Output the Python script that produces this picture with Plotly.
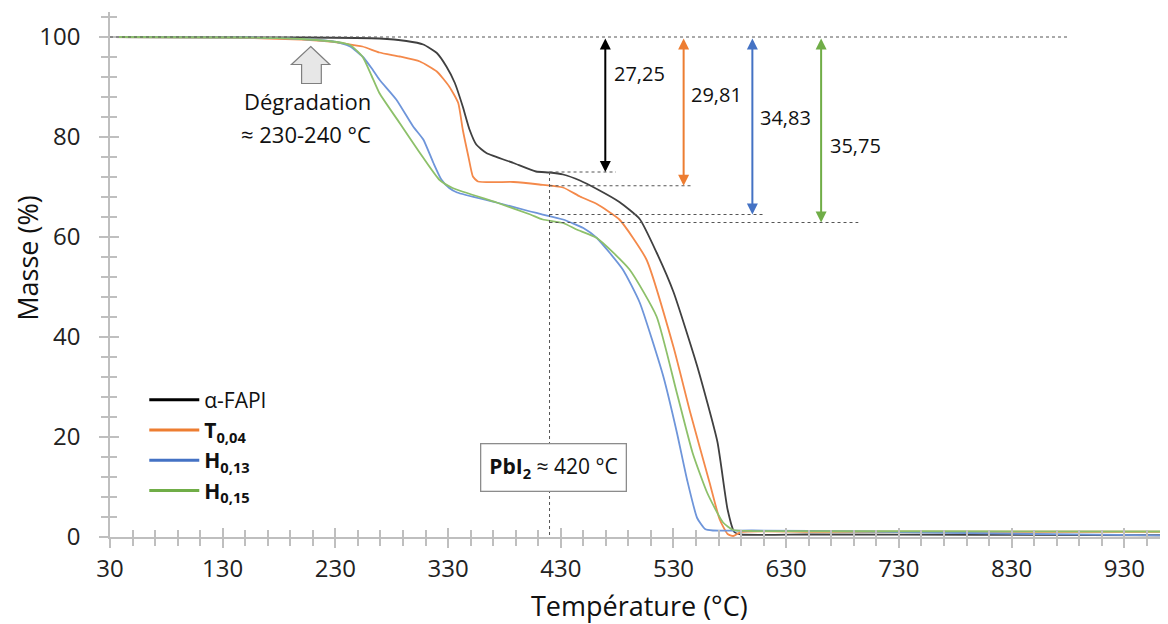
import plotly.graph_objects as go

# ---------------- data ----------------
temp_fapi = [30, 200, 269, 293, 308, 320, 328.5, 336, 343, 349, 355, 364, 388, 408, 420, 432, 447, 462, 482, 500, 515, 530, 551, 569, 578, 584, 590, 650, 800, 968]
mass_fapi = [100, 99.9, 99.7, 99.2, 98.5, 96.8, 94.1, 90.8, 86.1, 81.5, 78.5, 76.8, 74.8, 73.1, 72.9, 72.5, 71.3, 69.6, 67.0, 63.6, 56.9, 49, 34.2, 19, 5.5, 1.0, 0.5, 0.5, 0.45, 0.35]

temp_t004 = [30, 130, 200, 225, 254, 269, 287, 305, 320, 331, 339, 343, 348, 352, 356.5, 388, 411, 432, 447, 462, 482, 506, 530, 545, 562, 571, 578, 583, 590, 650, 800, 968]
mass_t004 = [100, 99.9, 99.5, 99.1, 98.1, 96.9, 96.1, 95.1, 93.1, 90.1, 86.8, 81.5, 76.1, 72.1, 71.1, 71.0, 70.5, 69.9, 68.1, 66.6, 63.5, 55.5, 38, 24.8, 10.9, 3.5, 0.6, 0.2, 1.0, 1.05, 1.05, 1.05]

temp_h013 = [30, 150, 200, 231, 243, 254, 262, 269, 284, 299, 308, 317, 324, 331, 338, 373, 403, 414, 432, 450, 462, 485, 500, 521, 533, 542, 551, 558, 565, 600, 700, 850, 968]
mass_h013 = [100, 99.9, 99.6, 99.0, 98.1, 96.1, 93.8, 91.5, 87.5, 82.1, 79.5, 74.8, 71.5, 69.8, 68.9, 66.9, 65.1, 64.5, 63.5, 61.8, 59.8, 53.5, 46.9, 32.1, 20.9, 11.5, 3.8, 1.6, 1.3, 1.3, 1.1, 0.6, 0.3]

temp_h015 = [30, 150, 200, 231, 243, 254, 262, 269, 287, 305, 322, 334, 373, 403, 414, 432, 444, 462, 491, 515, 533, 547, 560, 574, 583, 600, 750, 968]
mass_h015 = [100, 99.9, 99.6, 99.0, 98.4, 96.1, 92.3, 88.8, 82.8, 76.8, 71.5, 69.8, 66.9, 64.5, 63.5, 62.8, 61.5, 59.8, 53.5, 44.1, 28.8, 16.8, 8.8, 2.9, 1.4, 1.2, 1.15, 1.1]

series_names = ["α-FAPI", "<b>T<sub>0,04</sub></b>", "<b>H<sub>0,13</sub></b>", "<b>H<sub>0,15</sub></b>"]
series_colors = ["#404040", "#F4894A", "#6E95DA", "#8DC06A"]
legend_colors = ["#000000", "#ED7D31", "#4472C4", "#70AD47"]
arrow_colors = ["#000000", "#ED7D31", "#4472C4", "#70AD47"]

# mass-loss annotations
loss_labels = ["27,25", "29,81", "34,83", "35,75"]
loss_levels = [73.0, 70.25, 64.5, 62.9]      # plateau levels (dashed lines)
arrow_temps = [469.5, 539, 600, 661]         # x position of double arrows
line_ends = [479, 545.5, 609, 694]           # end of plateau dashed lines
label_temps = [475, 543.5, 605, 667]
label_mass = [92.7, 88.5, 83.9, 78.3]

pbi2_temp = 420
top_line_end = 880

x_ticks = [30, 130, 230, 330, 430, 530, 630, 730, 830, 930]
y_ticks = [0, 20, 40, 60, 80, 100]

FONT = "Open Sans"
AX = "#BFBFBF"

fig = go.Figure()
all_t = [temp_fapi, temp_t004, temp_h013, temp_h015]
all_m = [mass_fapi, mass_t004, mass_h013, mass_h015]
for t, m, col in zip(all_t, all_m, series_colors):
    fig.add_trace(go.Scatter(x=t, y=m, mode="lines", showlegend=False,
                             line=dict(color=col, width=1.8, shape="spline", smoothing=0.5)))
# legend entries (thicker legend lines, as in the reference)
for name, col in zip(series_names, legend_colors):
    fig.add_trace(go.Scatter(x=[None], y=[None], mode="lines", name=name,
                             line=dict(color=col, width=3)))

# invisible trace to carry the overlay axes (inner half of crossing ticks)
fig.add_trace(go.Scatter(x=temp_fapi[:1], y=mass_fapi[:1], xaxis="x2", yaxis="y2",
                         mode="markers", marker=dict(opacity=0), showlegend=False, hoverinfo="skip"))

xr = [30, 968.8]
yr = [0, 105]

common_x = dict(range=xr, tickmode="array", tickvals=x_ticks, showgrid=False, zeroline=False,
                ticklen=9, tickwidth=1.5, tickcolor=AX, automargin=False)
common_y = dict(range=yr, tickmode="array", tickvals=y_ticks, showgrid=False, zeroline=False,
                ticklen=9, tickwidth=1.5, tickcolor=AX, automargin=False)

# the page body adds an 8 px offset, so the figure is 8 px smaller than the window
fig.update_layout(
    width=1160, height=616,
    margin=dict(l=102, r=0, t=4, b=87),
    paper_bgcolor="white", plot_bgcolor="white",
    font=dict(family=FONT, color="#222222"),
    xaxis=dict(**common_x, ticks="outside", showline=True, linecolor=AX, linewidth=1.5,
               tickfont=dict(size=24, family=FONT, color="#222"),
               minor=dict(dtick=20, tick0=30, ticks="outside", ticklen=7, tickwidth=1.5, tickcolor=AX)),
    xaxis2=dict(**common_x, ticks="inside", overlaying="x", showticklabels=False, showline=False,
                minor=dict(dtick=20, tick0=30, ticks="inside", ticklen=7, tickwidth=1.5, tickcolor=AX)),
    yaxis=dict(**common_y, ticks="outside", showline=True, linecolor=AX, linewidth=1.5,
               tickfont=dict(size=24, family=FONT, color="#222"), ticklabelstandoff=14,
               minor=dict(dtick=4, ticks="outside", ticklen=7, tickwidth=1.5, tickcolor=AX)),
    yaxis2=dict(**common_y, ticks="inside", overlaying="y", showticklabels=False, showline=False,
                minor=dict(dtick=4, ticks="inside", ticklen=7, tickwidth=1.5, tickcolor=AX)),
    legend=dict(x=0.0324, y=0.300, xanchor="left", yanchor="top", bgcolor="rgba(0,0,0,0)",
                font=dict(size=21, family=FONT, color="#111"), tracegroupgap=0, itemwidth=50),
    showlegend=True,
)

DASH = dict(color="#555555", width=1, dash="dot")
# top 100 % reference line
fig.add_shape(type="line", x0=temp_fapi[0], x1=top_line_end, y0=mass_fapi[0], y1=mass_fapi[0], line=DASH)
# plateau reference lines
for lvl, xe in zip(loss_levels, line_ends):
    fig.add_shape(type="line", x0=pbi2_temp, x1=xe, y0=lvl, y1=lvl, line=DASH)
# vertical PbI2 line
fig.add_shape(type="line", x0=pbi2_temp, x1=pbi2_temp, y0=loss_levels[0], y1=-1.6, line=DASH)

# double arrows + labels
for xa, lvl, col, lab, lt, lm in zip(arrow_temps, loss_levels, arrow_colors, loss_labels, label_temps, label_mass):
    fig.add_annotation(x=xa, y=lvl, ax=xa, ay=100, xref="x", yref="y", axref="x", ayref="y",
                       text="", showarrow=True, arrowhead=2, arrowside="end+start",
                       arrowsize=1.1, arrowwidth=2, arrowcolor=col, standoff=0, startstandoff=0)
    fig.add_annotation(x=lt, y=lm, xref="x", yref="y", text=lab, showarrow=False, xanchor="left",
                       font=dict(size=20, family=FONT, color="#111"))

# degradation block arrow
fig.add_shape(type="path",
              path="M 208.1 98.1 L 225 94.5 L 217.5 94.5 L 217.5 90.7 L 200 90.7 L 200 94.5 L 191 94.5 Z",
              fillcolor="#E7E7E7", line=dict(color="#7F7F7F", width=1.2))
fig.add_annotation(x=263, y=87.2, xref="x", yref="y", text="Dégradation", showarrow=False,
                   xanchor="right", font=dict(size=22, family=FONT, color="#111"))
fig.add_annotation(x=263, y=80.6, xref="x", yref="y", text="≈ 230-240 °C", showarrow=False,
                   xanchor="right", font=dict(size=22, family=FONT, color="#111"))

# PbI2 box
fig.add_annotation(x=pbi2_temp + 3.5, y=13.9, xref="x", yref="y",
                   text="<b>PbI<sub>2</sub></b> ≈ 420 °C", showarrow=False,
                   font=dict(size=21, family=FONT, color="#111"),
                   bordercolor="#8C8C8C", borderwidth=1.3, borderpad=8, bgcolor="white")

# axis titles
fig.add_annotation(x=0.5, y=-0.131, xref="paper", yref="paper", text="Température (°C)",
                   showarrow=False, font=dict(size=27, family=FONT, color="#111"), yanchor="middle")
fig.add_annotation(x=-0.0775, y=0.530, xref="paper", yref="paper", text="Masse (%)", textangle=-90,
                   showarrow=False, font=dict(size=27, family=FONT, color="#111"), xanchor="center")

fig.write_html("out.html")
